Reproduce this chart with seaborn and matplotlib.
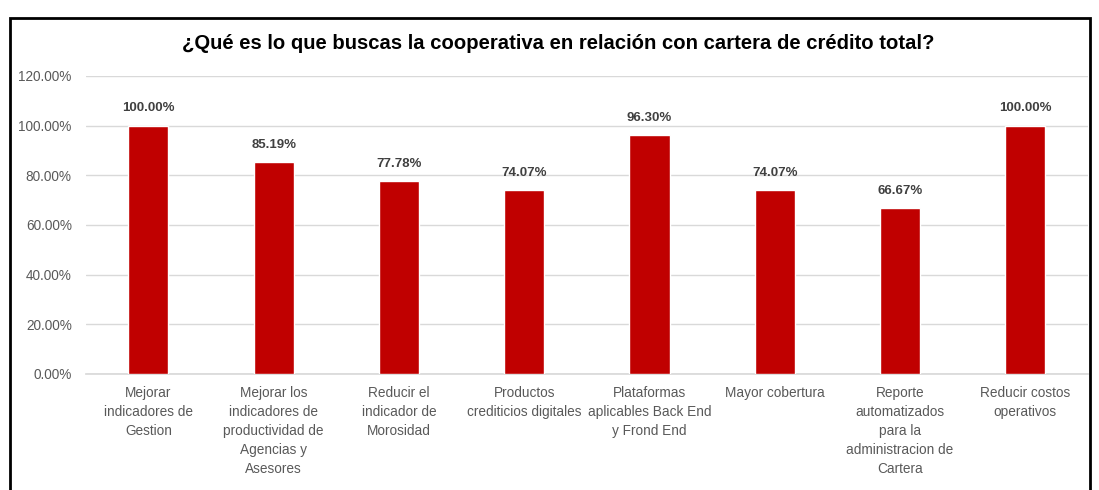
import matplotlib.pyplot as plt
import matplotlib.patches as patches
from matplotlib.ticker import PercentFormatter
import seaborn as sns
import pandas as pd

# dati
categorie = [
    "Mejorar\nindicadores de\nGestion",
    "Mejorar los\nindicadores de\nproductividad de\nAgencias y\nAsesores",
    "Reducir el\nindicador de\nMorosidad",
    "Productos\ncrediticios digitales",
    "Plataformas\naplicables Back End\ny Frond End",
    "Mayor cobertura",
    "Reporte\nautomatizados\npara la\nadministracion de\nCartera",
    "Reducir costos\noperativos",
]
valori = [1.0, 0.8519, 0.7778, 0.7407, 0.9630, 0.7407, 0.6667, 1.0]
titolo = "¿Qué es lo que buscas la cooperativa en relación con cartera de crédito total?"

sns.set_theme(style="white")
plt.rcParams['font.family'] = ['Liberation Sans', 'DejaVu Sans']

df = pd.DataFrame({"cat": categorie, "val": valori})

fig = plt.figure(figsize=(10.99, 4.9), dpi=100)
ax = fig.add_axes([0.078, 0.237, 0.912, 0.608])

sns.barplot(data=df, x="cat", y="val", color="#C00000", width=0.32,
            saturation=1, ax=ax, zorder=3)

ax.set_ylim(0, 1.2)
ax.set_yticks([0, 0.2, 0.4, 0.6, 0.8, 1.0, 1.2])
ax.yaxis.set_major_formatter(PercentFormatter(1.0, decimals=2))
ax.grid(axis="y", color="#D9D9D9", linewidth=1, zorder=0)
ax.set_xlabel("")
ax.set_ylabel("")
for s in ["top", "right", "left"]:
    ax.spines[s].set_visible(False)
ax.spines["bottom"].set_color("#D9D9D9")
ax.tick_params(axis="both", length=0, colors="#595959", labelsize=9.8)
ax.tick_params(axis="x", pad=9)
ax.tick_params(axis="y", pad=10)
for lbl in ax.get_xticklabels():
    lbl.set_linespacing(1.45)
    lbl.set_va("top")

# etichette dei valori
for i, v in enumerate(valori):
    ax.annotate(f"{v*100:.2f}%", (i, v), xytext=(0, 8), textcoords="offset points",
                ha="center", va="bottom", fontsize=9.5, fontweight="bold",
                color="#404040")

fig.text(0.508, 0.912, titolo, ha="center", va="center", fontsize=14.6,
         fontweight="bold", color="black")

# cornice del grafico
fig.patches.append(patches.Rectangle((10 / 1099, -0.05), 1080 / 1099, 1.05 - 18 / 490,
                                     transform=fig.transFigure, fill=False,
                                     edgecolor="black", linewidth=2))

fig.savefig("out.png", dpi=100)
